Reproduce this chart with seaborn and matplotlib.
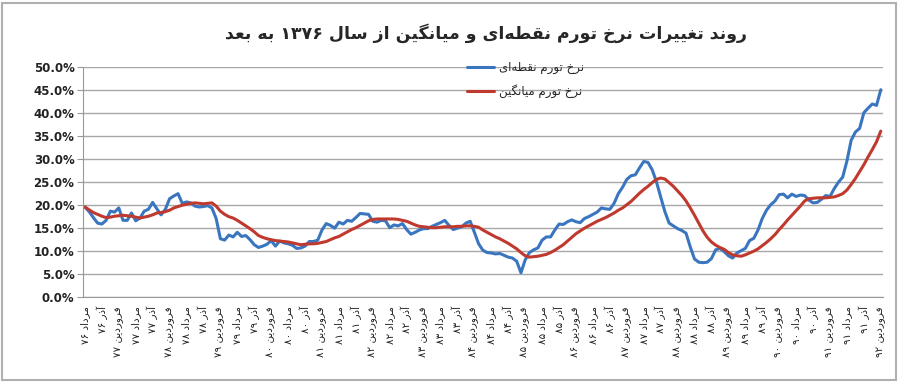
import numpy as np
import pandas as pd
import matplotlib
matplotlib.use("Agg")
import matplotlib.pyplot as plt
import seaborn as sns
from matplotlib.patches import Rectangle

# data (monthly, mordad 76 .. farvardin 92)
point_rate = [19.5, 18.5, 17.2, 16.0, 15.8, 16.6, 18.6, 18.4, 19.3, 16.6,
              16.6, 18.2, 16.5, 17.1, 18.6, 19.0, 20.5, 19.1, 17.8, 19.0,
              21.3, 21.9, 22.4, 20.3, 20.6, 20.4, 19.7, 19.5, 19.6, 19.8,
              19.3, 17.0, 12.6, 12.3, 13.4, 13.0, 14.0, 13.1, 13.3, 12.4,
              11.3, 10.7, 11.0, 11.4, 12.2, 11.0, 12.1, 11.7, 11.5, 11.2,
              10.5, 10.6, 11.0, 12.0, 12.0, 12.3, 14.5, 15.9, 15.5, 14.9,
              16.2, 15.8, 16.6, 16.4, 17.2, 18.1, 18.0, 17.9, 16.4, 16.2,
              16.6, 16.5, 15.0, 15.6, 15.4, 15.9, 14.6, 13.6, 14.0, 14.5,
              14.8, 14.8, 15.3, 15.7, 16.1, 16.6, 15.5, 14.6, 14.9, 15.2,
              16.0, 16.4, 14.0, 11.5, 10.1, 9.6, 9.5, 9.3, 9.4, 9.0,
              8.6, 8.4, 7.7, 5.2, 8.0, 9.6, 10.2, 10.6, 12.3, 13.0,
              13.0, 14.5, 15.8, 15.7, 16.3, 16.7, 16.3, 16.1, 17.0, 17.4,
              17.9, 18.4, 19.3, 19.1, 19.0, 20.3, 22.4, 23.8, 25.5, 26.3,
              26.5, 28.0, 29.4, 29.2, 27.6, 25.0, 21.7, 18.5, 16.0, 15.4,
              14.8, 14.4, 13.8, 10.8, 8.2, 7.5, 7.4, 7.5, 8.3, 10.2,
              10.5, 9.8, 8.9, 8.4, 9.5, 10.0, 10.5, 12.2, 12.7, 14.5,
              17.0, 18.8, 20.0, 20.8, 22.2, 22.3, 21.5, 22.3, 21.8, 22.1,
              22.0, 21.0, 20.4, 20.5, 21.2, 22.0, 21.8, 23.5, 24.9, 26.0,
              29.5, 34.0, 35.8, 36.6, 40.0, 41.0, 41.9, 41.6, 45.0]

avg_rate = [19.5, 18.9, 18.3, 17.9, 17.5, 17.2, 17.3, 17.5, 17.6, 17.7,
            17.6, 17.5, 17.3, 17.1, 17.3, 17.5, 17.8, 18.2, 18.3, 18.5,
            18.8, 19.3, 19.6, 19.9, 20.1, 20.3, 20.4, 20.3, 20.2, 20.3,
            20.4, 19.7, 18.6, 17.9, 17.4, 17.1, 16.6, 16.0, 15.4, 14.8,
            14.1, 13.3, 12.9, 12.6, 12.4, 12.2, 12.1, 12.0, 11.9, 11.7,
            11.5, 11.3, 11.4, 11.5, 11.5, 11.6, 11.8, 12.0, 12.4, 12.8,
            13.1, 13.6, 14.1, 14.6, 15.0, 15.5, 16.0, 16.5, 16.8, 16.9,
            16.9, 16.9, 16.9, 16.9, 16.8, 16.6, 16.4, 16.0, 15.6, 15.3,
            15.2, 15.1, 15.0, 15.0, 15.1, 15.2, 15.2, 15.2, 15.3, 15.3,
            15.4, 15.4, 15.3, 15.1, 14.5, 14.0, 13.5, 13.0, 12.6, 12.1,
            11.6, 11.0, 10.4, 9.6, 8.9, 8.6, 8.7, 8.8, 9.0, 9.2,
            9.6, 10.1, 10.7, 11.3, 12.1, 12.9, 13.7, 14.3, 14.9, 15.4,
            15.9, 16.4, 16.8, 17.2, 17.7, 18.2, 18.8, 19.3, 20.0, 20.7,
            21.6, 22.5, 23.3, 24.0, 24.8, 25.5, 25.8, 25.6, 24.8, 24.0,
            23.0, 22.0, 20.8, 19.3, 17.7, 16.0, 14.3, 12.9, 11.9, 11.2,
            10.7, 10.3, 9.6, 9.1, 8.9, 8.8, 9.1, 9.5, 9.9, 10.4,
            11.1, 11.8, 12.6, 13.5, 14.6, 15.6, 16.7, 17.7, 18.7, 19.7,
            20.8, 21.3, 21.4, 21.5, 21.5, 21.5, 21.6, 21.7, 22.0, 22.4,
            23.2, 24.4, 25.7, 27.2, 28.7, 30.4, 32.0, 33.7, 36.0]

label_months = ["مرداد", "آذر", "فروردین"]
first_year = 76
title = "روند تغییرات نرخ تورم نقطه‌ای و میانگین از سال ۱۳۷۶ به بعد"
name_point = "نرخ تورم نقطه‌ای"
name_avg = "نرخ تورم میانگین"

# matplotlib has no arabic shaping, so do a small one by hand
FORMS = {
    "ا": (0xFE8D, 0xFE8E), "آ": (0xFE81, 0xFE82), "د": (0xFEA9, 0xFEAA),
    "ر": (0xFEAD, 0xFEAE), "ز": (0xFEAF, 0xFEB0), "و": (0xFEED, 0xFEEE),
    "ب": (0xFE8F, 0xFE90, 0xFE91, 0xFE92), "ت": (0xFE95, 0xFE96, 0xFE97, 0xFE98),
    "خ": (0xFEA5, 0xFEA6, 0xFEA7, 0xFEA8), "س": (0xFEB1, 0xFEB2, 0xFEB3, 0xFEB4),
    "ط": (0xFEC1, 0xFEC2, 0xFEC3, 0xFEC4), "ع": (0xFEC9, 0xFECA, 0xFECB, 0xFECC),
    "غ": (0xFECD, 0xFECE, 0xFECF, 0xFED0), "ف": (0xFED1, 0xFED2, 0xFED3, 0xFED4),
    "ق": (0xFED5, 0xFED6, 0xFED7, 0xFED8), "ل": (0xFEDD, 0xFEDE, 0xFEDF, 0xFEE0),
    "م": (0xFEE1, 0xFEE2, 0xFEE3, 0xFEE4), "ن": (0xFEE5, 0xFEE6, 0xFEE7, 0xFEE8),
    "ه": (0xFEE9, 0xFEEA, 0xFEEB, 0xFEEC), "ی": (0xFBFC, 0xFBFD, 0xFBFE, 0xFBFF),
    "گ": (0xFB92, 0xFB93, 0xFB94, 0xFB95),
}


def fa(text):
    shaped = []
    for k, c in enumerate(text):
        if c not in FORMS:
            shaped.append(c)
            continue
        prev = text[k - 1] if k > 0 else ""
        nxt = text[k + 1] if k + 1 < len(text) else ""
        f = FORMS[c]
        jp = prev in FORMS and len(FORMS[prev]) == 4
        jn = nxt in FORMS and len(f) == 4
        if jp and jn:
            cp = f[3]
        elif jp:
            cp = f[1]
        elif jn:
            cp = f[2]
        else:
            cp = f[0]
        shaped.append(chr(cp))
    s = "".join(shaped).replace("\u200c", "")
    # crude bidi: reverse, keep digit runs in order
    runs, cur, isdig = [], "", None
    for c in s:
        d = c.isdigit()
        if cur and d != isdig:
            runs.append((cur, isdig))
            cur = ""
        cur += c
        isdig = d
    if cur:
        runs.append((cur, isdig))
    return "".join(r if d else r[::-1] for r, d in reversed(runs))


def fa_num(n):
    return "".join(chr(0x06F0 + int(ch)) for ch in str(n))


months = np.arange(len(point_rate))
df = pd.DataFrame({"month": np.concatenate([months, months]),
                   "rate": point_rate + avg_rate,
                   "series": [name_point] * len(point_rate) + [name_avg] * len(avg_rate)})

tick_pos = months[::4]
tick_lab = []
for j in range(len(tick_pos)):
    m = label_months[j % 3]
    yr = first_year + (j + 1) // 3
    tick_lab.append(fa(m + " " + fa_num(yr)))

sns.set_style("white")
plt.rcParams["font.family"] = ["DejaVu Sans"]

fig = plt.figure(figsize=(9, 3.82), dpi=100)
ax = fig.add_axes([0.092, 0.2233, 0.889, 0.602])

sns.lineplot(data=df, x="month", y="rate", hue="series",
             palette={name_point: "#3a76c0", name_avg: "#c0392f"},
             linewidth=2.2, ax=ax, legend=False)

ax.set_xlim(-0.5, len(point_rate) - 0.5)
ax.set_ylim(0, 50)
ax.set_yticks(np.arange(0, 51, 5))
ax.set_yticklabels([f"{v:.1f}%" for v in np.arange(0, 51, 5)],
                   fontsize=8.5, fontweight="bold", color="#222222")
ax.yaxis.grid(True, color="#a8a8a8", linewidth=1)
ax.set_axisbelow(True)
ax.set_xticks(tick_pos)
ax.set_xticklabels(tick_lab, rotation=90, fontsize=7.5, color="#222222")
ax.set_xticks(months, minor=True)
ax.tick_params(axis="x", which="both", length=3, color="#999999", pad=4)
ax.tick_params(axis="y", length=4, color="#999999", pad=2, left=True)
ax.set_xlabel("")
ax.set_ylabel("")
for s in ["top", "right"]:
    ax.spines[s].set_visible(False)
for s in ["left", "bottom"]:
    ax.spines[s].set_color("#999999")

# legend, no frame
ax.plot([], [], color="#3a76c0", lw=2.2, label=fa(name_point))
ax.plot([], [], color="#c0392f", lw=2.2, label=fa(name_avg))
ax.legend(loc="upper left", bbox_to_anchor=(0.474, 1.045), frameon=False,
          fontsize=8.5, handlelength=2.3, handletextpad=0.4,
          labelspacing=0.85, borderaxespad=0)

fig.text(0.54, 0.912, fa(title), ha="center", va="center",
         fontsize=12.5, fontweight="bold")

fig.patches.append(Rectangle((0.002, 0.006), 0.994, 0.985, transform=fig.transFigure,
                             fill=False, edgecolor="#b0b0b0", linewidth=1.5))

fig.savefig("out.png", dpi=100)
